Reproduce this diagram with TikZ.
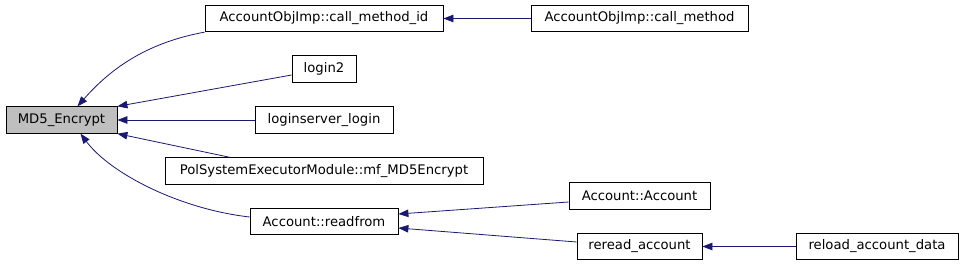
\documentclass[tikz,border=0pt]{standalone}
\usepackage{fontspec}
\setmainfont{DejaVu Sans}
\usetikzlibrary{arrows.meta}
\definecolor{edgeblue}{HTML}{191970}
\begin{document}
\begin{tikzpicture}[x=1pt, y=-1pt, inner sep=0pt,
    fn/.style={draw, line width=0.8pt, minimum height=26.5pt, font=\fontsize{13.2}{15}\selectfont},
    edge/.style={draw=edgeblue, line width=0.8pt, -{Triangle[length=10pt, width=7.5pt, fill=edgeblue]}}]
  \useasboundingbox (0,0) rectangle (965,265);
  \node[fn, fill=black!25, minimum width=111pt] (md5) at (61.5,120) {MD5\_Encrypt};
  \node[fn, minimum width=238pt] (cmid) at (324,18.5) {AccountObjImp::call\_method\_id};
  \node[fn, minimum width=217pt] (cm) at (639.5,18.5) {AccountObjImp::call\_method};
  \node[fn, minimum width=64pt] (login2) at (324,69) {login2};
  \node[fn, minimum width=138pt] (lslogin) at (324,120) {loginserver\_login};
  \node[fn, minimum width=318pt] (pol) at (324,171) {PolSystemExecutorModule::mf\_MD5Encrypt};
  \node[fn, minimum width=148pt] (readfrom) at (324,221.5) {Account::readfrom};
  \node[fn, minimum width=141pt] (acc) at (639.5,196) {Account::Account};
  \node[fn, minimum width=125pt] (reread) at (639.5,246.5) {reread\_account};
  \node[fn, minimum width=162pt] (reload) at (877,246.5) {reload\_account\_data};
  % callers of MD5_Encrypt
  \draw[edge] (cmid.south west) .. controls +(-55,10) and +(35,-40) .. ([xshift=16pt]md5.north);
  \draw[edge] ([yshift=-6pt]login2.west) -- (md5.north east);
  \draw[edge] (lslogin) -- (md5);
  \draw[edge] ([xshift=-94pt]pol.north) -- (md5.south east);
  \draw[edge] ([yshift=4.5pt]readfrom.west) .. controls +(-70,-8) and +(30,40) .. ([xshift=19pt]md5.south);
  % second level
  \draw[edge] (cm) -- (cmid);
  \draw[edge] ([yshift=-6pt]acc.west) -- ([yshift=7.5pt]readfrom.east);
  \draw[edge] ([yshift=4.5pt]reread.west) -- ([yshift=-6.5pt]readfrom.east);
  \draw[edge] (reload) -- (reread);
\end{tikzpicture}
\end{document}
